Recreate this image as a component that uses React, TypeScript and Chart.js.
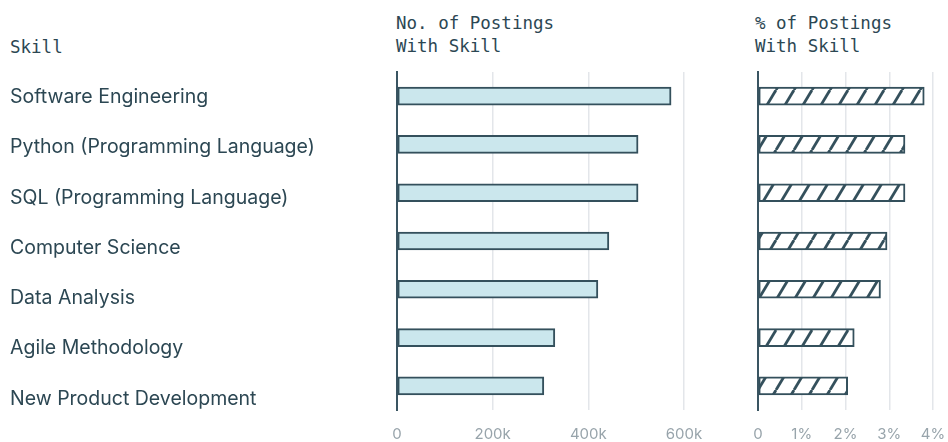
import React, { useEffect, useRef } from "react";
import { Chart, registerables } from "chart.js";

Chart.register(...registerables);

// ---- data ----
const skills = [
  "Software Engineering",
  "Python (Programming Language)",
  "SQL (Programming Language)",
  "Computer Science",
  "Data Analysis",
  "Agile Methodology",
  "New Product Development",
];
const postingsCount = [573000, 504000, 504000, 443000, 420000, 330000, 307000];
const postingsPct = [3.8, 3.36, 3.36, 2.95, 2.8, 2.2, 2.05];
const countTicks = [0, 200000, 400000, 600000];
const pctTicks = [0, 1, 2, 3, 4];
const skillHeader = "Skill";
const countHeader = ["No. of Postings", "With Skill"];
const pctHeader = ["% of Postings", "With Skill"];

// ---- styles ----
const TEXT = "#2c4753";
const BAR_FILL = "#cbe7ed";
const BAR_BORDER = "#34505c";
const AXIS = "#3a5562";
const GRID = "#e3e6ea";
const TICK = "#98a4ab";
const SANS = "Inter, 'Noto Sans', sans-serif";
const MONO = "'DejaVu Sans Mono', monospace";

function makeHatch(): CanvasPattern | string {
  const c = document.createElement("canvas");
  c.width = 18;
  c.height = 30;
  const g = c.getContext("2d");
  if (!g) return "#fff";
  g.fillStyle = "#ffffff";
  g.fillRect(0, 0, 18, 30);
  g.strokeStyle = BAR_BORDER;
  g.lineWidth = 2.8;
  for (const off of [-18, 0, 18]) {
    g.beginPath();
    g.moveTo(off, 30);
    g.lineTo(off + 18, 0);
    g.stroke();
  }
  return g.createPattern(c, "repeat") || "#fff";
}

function panelOptions(
  max: number,
  tickVals: number[],
  fmt: (v: number) => string,
  pad: { left: number; right: number }
): any {
  return {
    animation: false,
    responsive: false,
    maintainAspectRatio: false,
    indexAxis: "y",
    layout: { padding: { left: pad.left, right: pad.right, top: 72, bottom: 0 } },
    plugins: { legend: { display: false }, tooltip: { enabled: false } },
    scales: {
      x: {
        type: "linear",
        min: 0,
        max,
        afterBuildTicks: (s: any) => {
          s.ticks = tickVals.map((v) => ({ value: v }));
        },
        afterFit: (s: any) => {
          s.height = 32;
        },
        grid: {
          drawTicks: true,
          tickLength: 15,
          tickColor: "rgba(0,0,0,0)",
          lineWidth: 1.5,
          color: (c: any) => (c.index === 0 ? "rgba(0,0,0,0)" : GRID),
        },
        border: { display: false },
        ticks: {
          padding: 0,
          color: TICK,
          font: { family: SANS, size: 15 },
          callback: (v: any) => fmt(Number(v)),
        },
      },
      y: {
        type: "category",
        offset: true,
        afterFit: (s: any) => {
          s.width = 0;
        },
        grid: { display: false, drawTicks: false },
        ticks: { display: false },
        border: { display: true, color: AXIS, width: 2 },
      },
    },
  };
}

export default function App() {
  const labelRef = useRef<HTMLCanvasElement>(null);
  const leftRef = useRef<HTMLCanvasElement>(null);
  const rightRef = useRef<HTMLCanvasElement>(null);

  useEffect(() => {
    Chart.defaults.font.family = SANS;
    const charts: Chart[] = [];

    if (labelRef.current) {
      charts.push(
        new Chart(labelRef.current, {
          type: "bar",
          data: { labels: skills, datasets: [{ data: [] }] },
          options: {
            animation: false,
            responsive: false,
            maintainAspectRatio: false,
            indexAxis: "y",
            layout: { padding: { left: 10, top: 72, bottom: 18, right: 0 } },
            plugins: { legend: { display: false }, tooltip: { enabled: false } },
            scales: {
              x: { display: false, min: 0, max: 1 },
              y: {
                type: "category",
                offset: true,
                grid: { display: false, drawTicks: false },
                border: { display: false },
                ticks: {
                  crossAlign: "far",
                  padding: 0,
                  color: TEXT,
                  font: { family: SANS, size: 19.5 },
                },
                afterFit: (s: any) => {
                  s.width = 370;
                },
              },
            },
          } as any,
        })
      );
    }

    if (leftRef.current) {
      charts.push(
        new Chart(leftRef.current, {
          type: "bar",
          data: {
            labels: skills,
            datasets: [
              {
                data: postingsCount,
                backgroundColor: BAR_FILL,
                borderColor: BAR_BORDER,
                borderWidth: 2,
                borderSkipped: false,
                barThickness: 18,
              },
            ],
          },
          options: panelOptions(
            600000,
            countTicks,
            (v) => (v === 0 ? "0" : `${v / 1000}k`),
            { left: 17, right: 26 }
          ),
        })
      );
    }

    if (rightRef.current) {
      charts.push(
        new Chart(rightRef.current, {
          type: "bar",
          data: {
            labels: skills,
            datasets: [
              {
                data: postingsPct,
                backgroundColor: makeHatch() as any,
                borderColor: BAR_BORDER,
                borderWidth: 2,
                borderSkipped: false,
                barThickness: 18,
              },
            ],
          },
          options: panelOptions(
            4,
            pctTicks,
            (v) => (v === 0 ? "0" : `${v}%`),
            { left: 18, right: 15 }
          ),
        })
      );
    }

    return () => charts.forEach((c) => c.destroy());
  }, []);

  const headStyle: React.CSSProperties = {
    position: "absolute",
    fontFamily: MONO,
    fontSize: 17.5,
    lineHeight: "23px",
    color: TEXT,
    whiteSpace: "pre",
  };

  return (
    <div
      style={{
        position: "fixed",
        left: 0,
        top: 0,
        width: 948,
        height: 442,
        background: "#ffffff",
        overflow: "hidden",
      }}
    >
      <div style={{ ...headStyle, left: 10, top: 36 }}>{skillHeader}</div>
      <div style={{ ...headStyle, left: 396, top: 12 }}>
        {countHeader.map((l, i) => (
          <div key={i}>{l}</div>
        ))}
      </div>
      <div style={{ ...headStyle, left: 755, top: 12 }}>
        {pctHeader.map((l, i) => (
          <div key={i}>{l}</div>
        ))}
      </div>
      <canvas
        ref={labelRef}
        width={392}
        height={442}
        style={{ position: "absolute", left: 0, top: 0, width: 392, height: 442 }}
      />
      <canvas
        ref={leftRef}
        width={330}
        height={442}
        style={{ position: "absolute", left: 380, top: 0, width: 330, height: 442 }}
      />
      <canvas
        ref={rightRef}
        width={208}
        height={442}
        style={{ position: "absolute", left: 740, top: 0, width: 208, height: 442 }}
      />
    </div>
  );
}
